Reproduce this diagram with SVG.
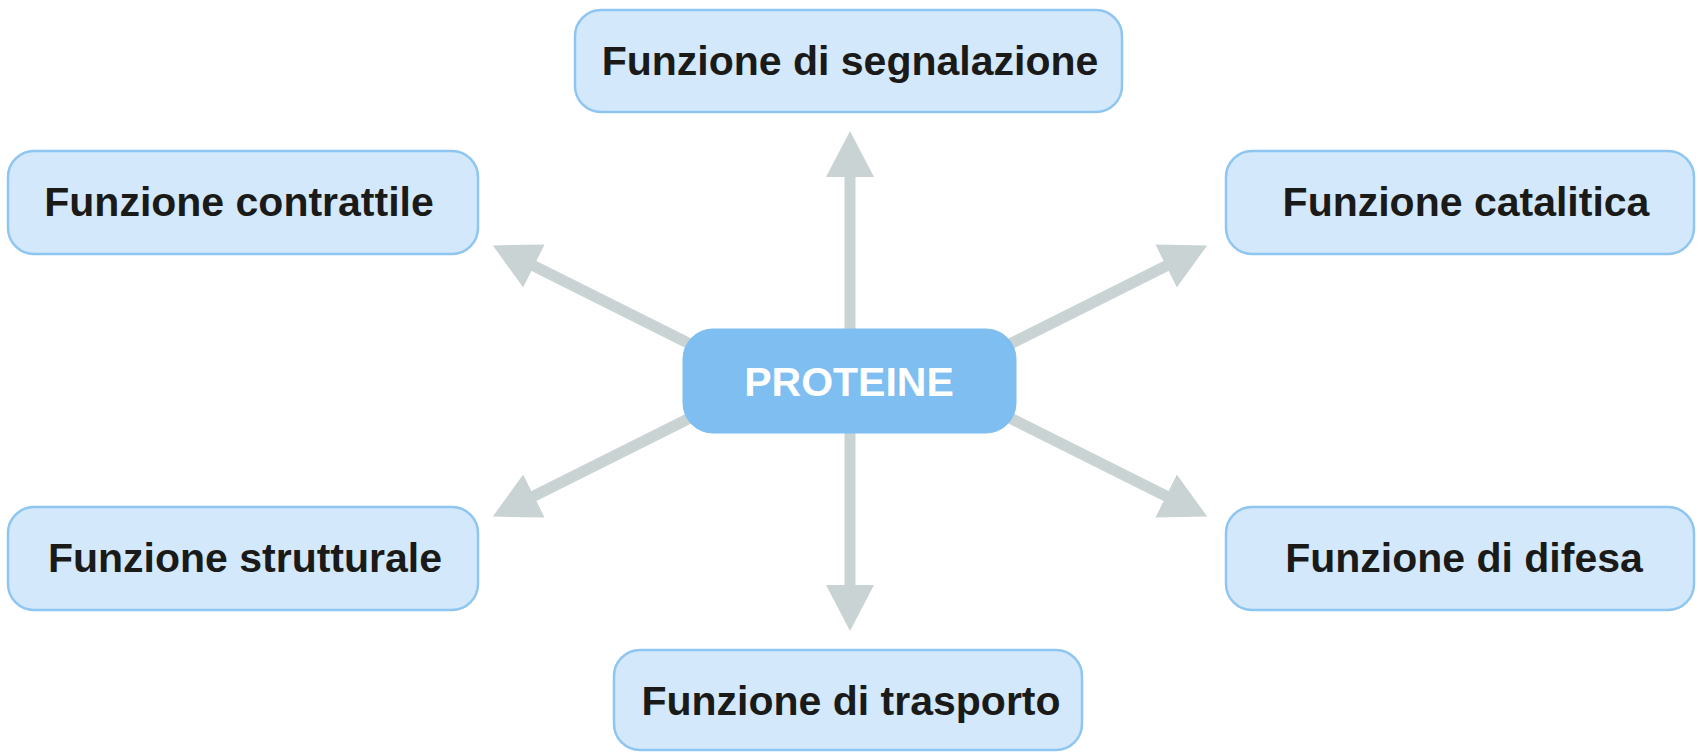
<svg xmlns="http://www.w3.org/2000/svg" width="1700" height="754" viewBox="0 0 1700 754">
  <style>
    .box { fill: #d3e8fb; stroke: #8fc6f1; stroke-width: 2.5; }
    .main { fill: #7ebef0; stroke: #7ebef0; stroke-width: 1; }
    .lbl { font-family: "Liberation Sans", Arial, sans-serif; font-weight: bold; font-size: 41px; fill: #1a1a18; text-anchor: middle; }
    .mainlbl { font-family: "Liberation Sans", Arial, sans-serif; font-weight: bold; font-size: 41px; fill: #ffffff; text-anchor: middle; }
    .conn { stroke: #c9d3d3; stroke-width: 11; fill: none; marker-end: url(#head); }
  </style>
  <defs>
    <marker id="head" viewBox="0 0 46 48" refX="1" refY="24" markerWidth="46" markerHeight="48" markerUnits="userSpaceOnUse" orient="auto">
      <path d="M0,0 L46,24 L0,48 Z" fill="#c9d3d3"/>
    </marker>
  </defs>
  <rect width="1700" height="754" fill="#ffffff"/>

  <g id="connectors">
    <line class="conn" x1="850" y1="360" x2="850" y2="176"/>
    <line class="conn" x1="850" y1="400" x2="850" y2="586"/>
    <line class="conn" x1="720" y1="359" x2="533" y2="265.5"/>
    <line class="conn" x1="980" y1="359" x2="1167" y2="265.5"/>
    <line class="conn" x1="720" y1="403" x2="533" y2="496.5"/>
    <line class="conn" x1="980" y1="403" x2="1167" y2="496.5"/>
  </g>

  <g id="node-proteine">
    <rect class="main" x="683" y="329" width="333" height="104" rx="30"/>
    <text class="mainlbl" x="849" y="396">PROTEINE</text>
  </g>
  <g id="node-segnalazione">
    <rect class="box" x="575" y="10" width="547" height="102" rx="26"/>
    <text class="lbl" x="850" y="75">Funzione di segnalazione</text>
  </g>
  <g id="node-contrattile">
    <rect class="box" x="8" y="151" width="470" height="103" rx="26"/>
    <text class="lbl" x="239" y="216">Funzione contrattile</text>
  </g>
  <g id="node-catalitica">
    <rect class="box" x="1226" y="151" width="468" height="103" rx="26"/>
    <text class="lbl" x="1466" y="216">Funzione catalitica</text>
  </g>
  <g id="node-strutturale">
    <rect class="box" x="8" y="507" width="470" height="103" rx="26"/>
    <text class="lbl" x="245" y="572">Funzione strutturale</text>
  </g>
  <g id="node-difesa">
    <rect class="box" x="1226" y="507" width="468" height="103" rx="26"/>
    <text class="lbl" x="1464" y="572">Funzione di difesa</text>
  </g>
  <g id="node-trasporto">
    <rect class="box" x="614" y="650" width="468" height="100" rx="26"/>
    <text class="lbl" x="851" y="715">Funzione di trasporto</text>
  </g>
</svg>
